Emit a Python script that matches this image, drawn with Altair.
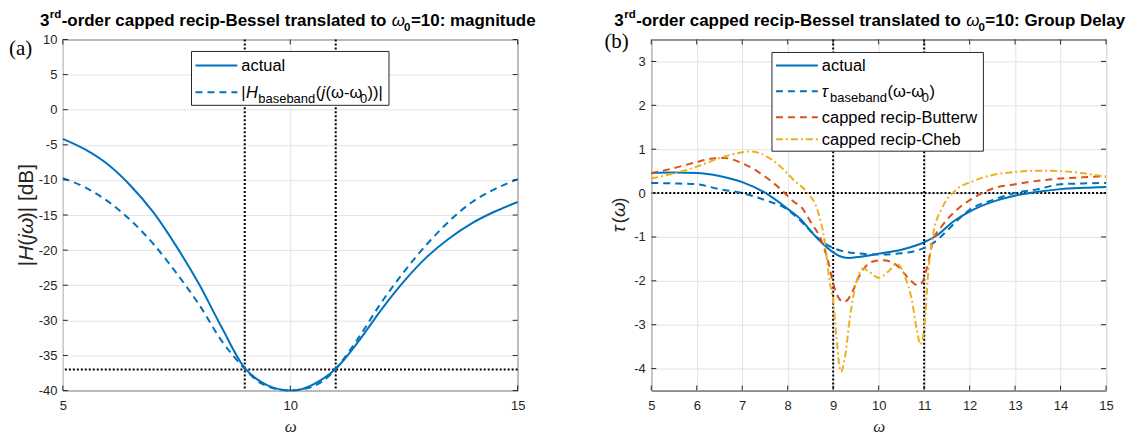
import altair as alt
import pandas as pd

# ---------------- data ----------------
mag_w = [5, 5.5, 6, 6.5, 7, 7.5, 8, 8.5, 9, 9.25, 9.5, 9.75, 10, 10.25, 10.5, 10.75, 11,
         11.5, 12, 12.5, 13, 13.5, 14, 14.5, 15]
mag_actual = [-4.15, -5.7, -7.85, -10.9, -14.7, -19.5, -24.9, -31.1, -36.8, -38.3, -39.25, -39.8,
              -40.0, -39.8, -39.15, -38.2, -36.9, -33.0, -28.5, -24.45, -21.0, -18.3, -16.15, -14.5, -13.15]
mag_base = [-9.75, -11.1, -13.1, -15.8, -19.2, -23.3, -27.8, -33.0, -36.9, -38.5, -39.4, -39.85,
            -40.0, -39.85, -39.4, -38.5, -36.9, -32.5, -27.5, -23.1, -19.2, -15.85, -13.15, -11.3, -9.9]

gd_actual_w = [5, 5.5, 6, 6.5, 7, 7.5, 8, 8.3, 8.5, 8.75, 9, 9.15, 9.33, 9.6, 10, 10.5, 10.8, 11,
               11.3, 11.6, 12, 12.5, 13, 13.5, 14, 14.5, 15]
gd_actual = [0.46, 0.47, 0.46, 0.39, 0.25, 0.01, -0.36, -0.61, -0.86, -1.13, -1.35, -1.44, -1.48,
             -1.45, -1.38, -1.29, -1.2, -1.12, -0.95, -0.68, -0.42, -0.2, -0.06, 0.03, 0.09, 0.12, 0.14]

gd_base_w = [5, 5.5, 6, 6.5, 7, 7.5, 8, 8.25, 8.5, 8.75, 9, 9.5, 10, 10.5, 11, 11.25, 11.5, 11.75,
             12, 12.5, 13, 13.5, 14, 14.5, 15]
gd_base = [0.23, 0.22, 0.2, 0.09, 0.0, -0.16, -0.38, -0.6, -0.86, -1.1, -1.25, -1.37, -1.40, -1.37,
           -1.25, -1.1, -0.86, -0.6, -0.38, -0.16, 0.0, 0.09, 0.2, 0.22, 0.23]

gd_butter_w = [5, 5.5, 5.94, 6.3, 6.6, 7.0, 7.4, 7.8, 8.15, 8.3, 8.5, 8.74, 8.9, 9.0, 9.1, 9.22, 9.3,
               9.4, 9.6, 9.84, 10.1, 10.4, 10.7, 10.85, 10.95, 11.05, 11.2, 11.4, 11.7, 12.1, 12.5,
               13, 13.5, 14, 14.5, 15]
gd_butter = [0.45, 0.57, 0.69, 0.78, 0.8, 0.68, 0.45, 0.13, -0.21, -0.32, -0.65, -1.08, -1.6, -2.06,
             -2.35, -2.48, -2.45, -2.29, -1.84, -1.57, -1.53, -1.65, -1.99, -2.1, -2.05, -1.75, -1.08,
             -0.74, -0.40, -0.1, 0.1, 0.2, 0.28, 0.33, 0.36, 0.38]

gd_cheb_w = [5, 5.5, 5.94, 6.54, 7.0, 7.2, 7.41, 7.78, 8.15, 8.44, 8.66, 8.81, 8.92, 9.0, 9.07, 9.17,
             9.26, 9.37, 9.52, 9.66, 9.8, 10.0, 10.2, 10.4, 10.58, 10.73, 10.84, 10.92, 11.0, 11.1,
             11.2, 11.4, 11.7, 12.1, 12.5, 13.0, 13.5, 14.0, 14.5, 15]
gd_cheb = [0.33, 0.45, 0.58, 0.81, 0.93, 0.95, 0.9, 0.66, 0.28, 0.0, -0.4, -1.08, -2.0, -2.45, -3.27,
           -4.07, -3.73, -2.82, -1.99, -1.72, -1.8, -1.93, -1.8, -1.61, -1.91, -2.44, -3.12, -3.45,
           -3.1, -1.69, -0.93, -0.33, 0.07, 0.28, 0.41, 0.48, 0.51, 0.5, 0.45, 0.37]

mag_xticks = [5, 10, 15]
mag_yticks = [-40, -35, -30, -25, -20, -15, -10, -5, 0, 5, 10]
gd_xticks = [5, 6, 7, 8, 9, 10, 11, 12, 13, 14, 15]
gd_yticks = [-4, -3, -2, -1, 0, 1, 2, 3]
band_edges = [9, 11]
mag_level = [-37]
gd_level = [0]

# ---------------- styling ----------------
W, H = 456, 352
FONT = "Liberation Sans"
SERIF = "Liberation Serif"
AXC = "#262626"
BLUE, ORANGE, YELLOW = "#0072BD", "#D95319", "#EDB120"

CW = {" ": 278, "(": 333, ")": 333, "-": 333, ":": 278, "=": 584, "|": 260, "[": 278, "]": 278,
      "H": 722, "B": 667, "a": 556, "b": 556, "c": 500, "d": 556, "e": 556, "i": 222, "j": 222,
      "l": 222, "n": 556, "o": 556, "p": 556, "r": 333, "s": 500, "t": 278, "u": 556, "w": 722,
      "h": 556, "C": 722, "ω": 700, "τ": 480}
CWB = {" ": 278, "(": 333, ")": 333, "-": 333, ":": 333, "=": 584, "B": 722, "D": 722, "G": 778,
       "a": 556, "c": 556, "d": 611, "e": 556, "g": 611, "i": 278, "l": 278, "m": 889, "n": 611,
       "o": 611, "p": 611, "r": 389, "s": 556, "t": 333, "u": 611, "y": 556, "ω": 700}


def tw(s, size, bold=False):
    tab = CWB if bold else CW
    return sum(tab.get(c, 556) for c in s) * size / 1000.0


def txt(x, y, s, size, bold=False, italic=False, font=FONT, color="black", align="left", angle=0):
    kw = dict(font=font, fontSize=size, fontWeight="bold" if bold else "normal",
              fontStyle="italic" if italic else "normal", color=color, align=align,
              baseline="alphabetic")
    if angle:
        kw["angle"] = angle
    return alt.Chart(pd.DataFrame({"t": [s]})).mark_text(**kw).encode(
        text="t:N", x=alt.value(x), y=alt.value(y))


def rich(x, y, pieces, color="black"):
    """pieces: (text, size, dy, bold, italic) laid out left to right"""
    out = []
    for s, size, dy, bold, italic in pieces:
        out.append(txt(x, y + dy, s, size, bold, italic, color=color))
        x += tw(s, size, bold) + 0.4
    return out


def rich_up(x, yc, pieces, size, color=AXC):
    """rotated (reading bottom to top) text centred at yc"""
    total = sum(tw(s, size) for s, it in pieces)
    y = yc + total / 2
    out = []
    for s, it in pieces:
        out.append(txt(x, y, s, size, italic=it, color=color, angle=270))
        y -= tw(s, size)
    return out


def title_layers(tail, x0):
    F = 17
    s = 0.68 * F
    pieces = [("3", F, 0, True, False), ("rd", s, -0.42 * F, True, False),
              ("-order capped recip-Bessel translated to ", F, 0, True, False),
              ("ω", F, 0, False, True), ("0", s, 0.32 * F, True, False),
              (tail, F, 0, True, False)]
    return rich(x0, -14, pieces)


def bound_marks(x):
    # white helpers fixing the extent of each panel
    return [alt.Chart(pd.DataFrame({"a": [0]})).mark_rule(color="white", strokeWidth=1).encode(
        x=alt.value(x), y=alt.value(-29), y2=alt.value(-28))]


def hyph():
    return "replace(datum.label, '\u2212', '-')"


def panel(xticks, ydom, yticks, ytitle, level, series, legend_rows, box, tag, tagx, tagy, tail,
          titlex, extra_bounds):
    xs = alt.Scale(domain=[5, 15], nice=False, zero=False)
    ys = alt.Scale(domain=ydom, nice=False, zero=False)
    xax = alt.Axis(values=xticks, title="ω", titleFont=SERIF, titleFontStyle="italic",
                   titleFontWeight="normal", titleFontSize=17, titleColor=AXC, titlePadding=6,
                   labelFont=FONT, labelFontSize=13, labelColor=AXC, labelPadding=9, tickSize=0,
                   domain=False, grid=True, gridColor="#e3e3e3", gridWidth=1, labelFlush=False,
                   labelExpr=hyph())
    yax = alt.Axis(values=yticks, title=None, labelFont=FONT, labelFontSize=13, labelColor=AXC,
                   labelPadding=6, tickSize=0, domain=False, grid=True, gridColor="#e3e3e3",
                   gridWidth=1, labelExpr=hyph())
    X = alt.X("w:Q", scale=xs, axis=xax)
    Y = alt.Y("v:Q", scale=ys, axis=yax)

    layers = []
    layers.append(alt.Chart(pd.DataFrame({"w": band_edges})).mark_rule(
        color="black", strokeWidth=2, strokeDash=[2, 2]).encode(x=X))
    layers.append(alt.Chart(pd.DataFrame({"v": level})).mark_rule(
        color="black", strokeWidth=2, strokeDash=[2, 2]).encode(y=Y))
    for w, v, color, dash in series:
        kw = dict(color=color, strokeWidth=2, interpolate="monotone", strokeCap="butt")
        if dash:
            kw["strokeDash"] = dash
        layers.append(alt.Chart(pd.DataFrame({"w": w, "v": v})).mark_line(**kw).encode(x=X, y=Y))
    tx = pd.DataFrame({"w": xticks})
    ty = pd.DataFrame({"v": yticks})
    layers.append(alt.Chart(tx).mark_rule(color=AXC).encode(x=X, y=alt.value(H), y2=alt.value(H - 5)))
    layers.append(alt.Chart(tx).mark_rule(color=AXC).encode(x=X, y=alt.value(0), y2=alt.value(5)))
    layers.append(alt.Chart(ty).mark_rule(color=AXC).encode(y=Y, x=alt.value(0), x2=alt.value(5)))
    layers.append(alt.Chart(ty).mark_rule(color=AXC).encode(y=Y, x=alt.value(W), x2=alt.value(W - 5)))
    bx0, by0, bx1, by1 = box
    layers.append(alt.Chart(pd.DataFrame({"a": [0]})).mark_rect(
        fill="white", stroke=AXC, strokeWidth=1).encode(
        x=alt.value(bx0), x2=alt.value(bx1), y=alt.value(by0), y2=alt.value(by1)))
    for ry, color, dash, pieces in legend_rows:
        kw = dict(color=color, strokeWidth=2, strokeCap="butt")
        if dash:
            kw["strokeDash"] = dash
        layers.append(alt.Chart(pd.DataFrame({"a": [0]})).mark_rule(**kw).encode(
            x=alt.value(bx0 + 4), x2=alt.value(bx0 + 46), y=alt.value(ry)))
        layers += rich(bx0 + 50, ry + 6, pieces)
    layers += ytitle
    layers.append(txt(tagx, tagy, tag, 21, font=SERIF))
    layers += title_layers(tail, titlex)
    for bxx in extra_bounds:
        layers += bound_marks(bxx)
    return alt.layer(*layers).properties(width=W, height=H)


LS = 16.5
SS = 13
left = panel(
    mag_xticks, [-40, 10], mag_yticks,
    rich_up(-29.5, H / 2, [("|", False), ("H", True), ("(", False), ("j", True), ("ω", True),
                          (")| [dB]", False)], 21),
    mag_level,
    [(mag_w, mag_actual, BLUE, None), (mag_w, mag_base, BLUE, [7, 5])],
    [(26, BLUE, None, [("actual", LS, 0, False, False)]),
     (53, BLUE, [7, 5], [("|", LS, 0, False, False), ("H", LS, 0, False, True),
                         ("baseband", SS, 5, False, False), ("(", LS, 0, False, False),
                         ("j", LS, 0, False, True), ("(ω-ω", LS, 0, False, False),
                         ("0", SS, 5, False, False), ("))|", LS, 0, False, False)])],
    (129, 12, 327, 66), "(a)", -54, 16, "=10: magnitude", -23, [-54, W + 24])

right = panel(
    gd_xticks, [-4.5, 3.5], gd_yticks,
    rich_up(-26, H / 2, [("τ", True), ("(", False), ("ω", True), (")", False)], 19),
    gd_level,
    [(gd_actual_w, gd_actual, BLUE, None), (gd_base_w, gd_base, BLUE, [7, 5]),
     (gd_butter_w, gd_butter, ORANGE, [7, 5]), (gd_cheb_w, gd_cheb, YELLOW, [7, 3, 2, 3])],
    [(26, BLUE, None, [("actual", LS, 0, False, False)]),
     (52, BLUE, [7, 5], [("τ", LS, 0, False, True), ("baseband", SS, 5, False, False),
                         ("(ω-ω", LS, 0, False, False), ("0", SS, 5, False, False),
                         (")", LS, 0, False, False)]),
     (78, ORANGE, [7, 5], [("capped recip-Butterw", LS, 0, False, False)]),
     (100, YELLOW, [7, 3, 2, 3], [("capped recip-Cheb", LS, 0, False, False)])],
    (121, 13, 333, 112), "(b)", -47, 9, "=10: Group Delay", -37, [-47])

chart = alt.hconcat(left, right, spacing=61).properties(
    padding={"left": 0, "top": 0, "right": 0, "bottom": 0}
).configure_view(stroke=AXC, strokeWidth=1)

chart.save("out.html", embed_options={"renderer": "svg", "actions": False})
